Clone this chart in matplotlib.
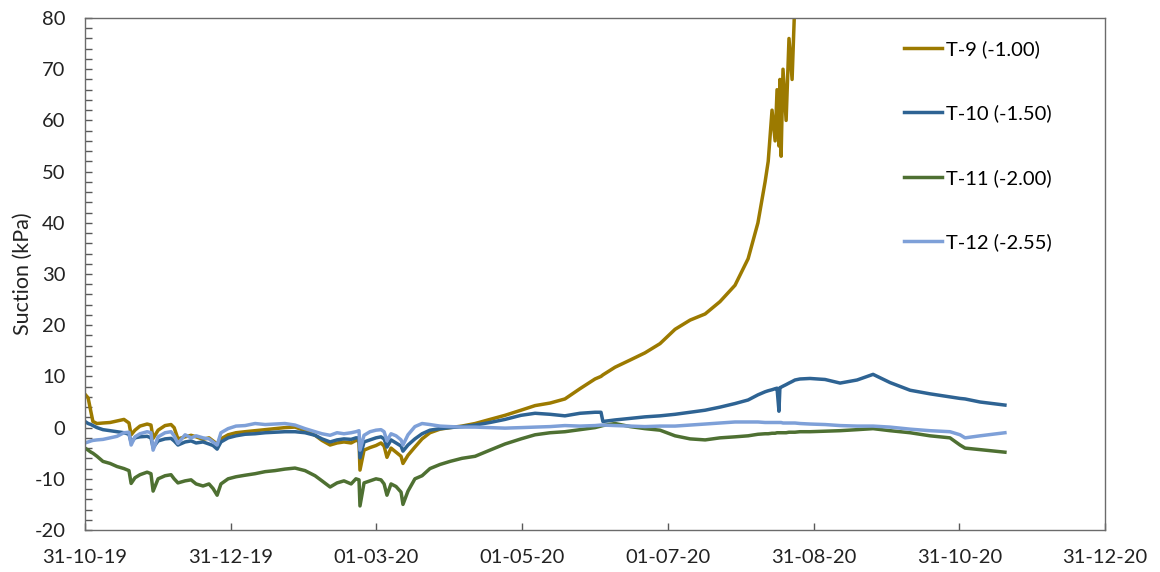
import datetime as dt
import matplotlib
matplotlib.use("Agg")
import matplotlib.pyplot as plt
import matplotlib.dates as mdates
from matplotlib.ticker import MultipleLocator

# days since 31-10-19 (shared by all four sensors)
days = [0, 1.3, 2.5, 3.3, 5.0, 7.5, 10.5, 13.4, 16.3, 18.4,
        19.3, 20.9, 23.0, 26.0, 27.6, 28.5, 30.6, 33.5, 36.0, 37.3,
        38.9, 41.9, 44.4, 46.5, 49.4, 51.9, 53.6, 55.3, 56.9, 59.9,
        63.2, 67.0, 71.2, 75.4, 79.5, 83.7, 87.9, 92.1, 96.3, 99.2,
        102.6, 105.5, 108.4, 111.4, 113.4, 114.7, 115.1, 116.8, 119.3, 121.8,
        123.9, 125.2, 126.4, 128.1, 130.2, 132.3, 133.1, 135.2, 138.1, 141.1,
        144.4, 148.6, 152.8, 157.8, 163.3, 169.5, 175.8, 182.5, 188.4, 194.7,
        200.9, 207.2, 213.5, 216.0, 216.8, 221.9, 228.2, 234.4, 240.7, 247.0,
        253.3, 259.6, 265.8, 272.1, 277.6, 281.7, 284.7, 286.0, 287.6, 288.9,
        289.7, 290.5, 290.9, 291.4, 292.2, 293.5, 294.7, 296.0, 297.2,
        299.3, 303.5, 309.8, 316.1, 323.2, 329.9, 337.0, 345.4, 353.7, 362.1,
        366.3, 368.4, 374.7, 385.1]

# T-9 goes off the top of the chart, so its list stops early
t9 = [6.5, 5.8, 3.0, 1.2, 0.8, 0.9, 1.0, 1.3, 1.6, 0.9,
      -1.4, -0.5, 0.3, 0.7, 0.5, -2.1, -0.5, 0.4, 0.6, 0.0,
      -2.2, -1.8, -1.5, -1.8, -2.3, -2.0, -2.6, -3.2, -2.2, -1.4,
      -1.0, -0.8, -0.6, -0.4, -0.2, 0.0, 0.1, -0.6, -1.5, -2.5,
      -3.4, -3.0, -2.8, -3.0, -2.5, -2.6, -8.3, -4.4, -3.9, -3.5,
      -3.0, -3.6, -5.8, -4.0, -4.8, -5.6, -7.0, -5.4, -3.8, -2.2,
      -1.0, -0.3, 0.0, 0.3, 0.8, 1.6, 2.4, 3.4, 4.3, 4.8,
      5.6, 7.6, 9.5, 10.0, 10.3, 11.8, 13.2, 14.6, 16.4, 19.2,
      21.0, 22.2, 24.6, 27.8, 33.0, 40.0, 48.0, 52.0, 62.0, 56.0,
      66.0, 55.0, 68.0, 53.0, 70.0, 60.0, 76.0, 68.0, 84.0]

t10 = [1.2, 0.8, 0.6, 0.4, 0.0, -0.4, -0.6, -0.8, -1.0, -1.3,
       -2.9, -2.0, -1.8, -1.7, -2.0, -3.9, -2.6, -2.2, -2.1, -2.6,
       -3.4, -2.8, -2.6, -3.0, -2.8, -3.2, -3.5, -4.2, -2.8, -2.0,
       -1.6, -1.3, -1.2, -1.0, -0.9, -0.8, -0.8, -1.0, -1.5, -2.2,
       -2.8, -2.4, -2.2, -2.3, -2.0, -2.0, -5.9, -2.8, -2.4, -2.0,
       -1.8, -2.2, -3.8, -2.4, -3.0, -3.6, -4.6, -3.4, -2.2, -1.2,
       -0.5, -0.2, 0.0, 0.2, 0.5, 1.0, 1.6, 2.4, 2.8, 2.6,
       2.3, 2.8, 3.0, 3.0, 1.2, 1.5, 1.8, 2.1, 2.3, 2.6,
       3.0, 3.4, 4.0, 4.7, 5.4, 6.4, 7.0, 7.2, 7.4, 7.6,
       7.7, 3.2, 7.8, 7.9, 8.1, 8.4, 8.7, 9.0, 9.3,
       9.5, 9.6, 9.4, 8.7, 9.3, 10.4, 8.8, 7.3, 6.6, 6.0,
       5.7, 5.6, 5.0, 4.4]

t11 = [-4.0, -4.4, -4.8, -5.0, -5.6, -6.6, -7.0, -7.6, -8.0, -8.4,
       -10.9, -9.8, -9.2, -8.7, -9.0, -12.4, -10.0, -9.4, -9.2, -10.0,
       -10.8, -10.4, -10.2, -11.0, -11.4, -11.0, -11.9, -13.2, -11.0, -10.0,
       -9.6, -9.3, -9.0, -8.6, -8.4, -8.1, -7.9, -8.4, -9.4, -10.4,
       -11.6, -10.8, -10.4, -11.0, -10.0, -10.2, -15.3, -10.8, -10.4, -10.0,
       -10.2, -11.0, -13.2, -11.0, -11.5, -12.6, -15.0, -12.4, -10.0, -9.4,
       -8.0, -7.2, -6.6, -6.0, -5.6, -4.4, -3.2, -2.2, -1.4, -1.0,
       -0.8, -0.4, 0.0, 0.3, 0.4, 0.8, 0.2, -0.2, -0.5, -1.6,
       -2.2, -2.4, -2.0, -1.8, -1.6, -1.3, -1.2, -1.2, -1.1, -1.1,
       -1.0, -1.0, -1.0, -1.0, -1.0, -1.0, -0.9, -0.9, -0.9,
       -0.8, -0.8, -0.7, -0.6, -0.4, -0.2, -0.6, -1.0, -1.6, -2.0,
       -3.4, -4.0, -4.3, -4.8]

t12 = [-3.0, -2.8, -2.6, -2.5, -2.4, -2.3, -2.0, -1.7, -1.0, -0.9,
       -3.4, -1.8, -1.2, -0.8, -1.0, -4.4, -1.8, -1.0, -0.8, -1.6,
       -3.1, -1.4, -2.0, -1.6, -2.0, -2.2, -2.8, -3.4, -1.0, -0.2,
       0.3, 0.4, 0.8, 0.6, 0.7, 0.8, 0.5, -0.2, -0.8, -1.2,
       -1.5, -1.0, -1.2, -1.0, -0.8, -0.6, -4.4, -1.5, -0.8, -0.5,
       -0.4, -0.8, -2.6, -1.2, -1.6, -2.4, -3.4, -1.4, 0.2, 0.8,
       0.6, 0.3, 0.2, 0.1, 0.1, 0.0, -0.1, 0.0, 0.1, 0.2,
       0.4, 0.3, 0.4, 0.5, 0.5, 0.4, 0.3, 0.2, 0.3, 0.3,
       0.5, 0.7, 0.9, 1.1, 1.1, 1.1, 1.0, 1.0, 1.0, 1.0,
       1.0, 1.0, 1.0, 1.0, 0.9, 0.9, 0.9, 0.9, 0.9,
       0.8, 0.7, 0.6, 0.4, 0.3, 0.3, 0.1, -0.3, -0.6, -0.8,
       -1.4, -2.0, -1.6, -1.0]

labels = ["T-9 (-1.00)", "T-10 (-1.50)", "T-11 (-2.00)", "T-12 (-2.55)"]
colors = ["#9C7A00", "#2E6393", "#4E7032", "#7EA0D8"]

start = dt.datetime(2019, 10, 31)
dates = [start + dt.timedelta(days=d) for d in days]

plt.rcParams['font.family'] = ['Lato', 'DejaVu Sans']
plt.rcParams['axes.unicode_minus'] = False

fig = plt.figure(figsize=(11.6, 5.72), dpi=100)
ax = fig.add_axes([0.0733, 0.0734, 0.8793, 0.8951])

for vals, lab, col in zip([t9, t10, t11, t12], labels, colors):
    ax.plot(dates[:len(vals)], vals, color=col, lw=2.5, label=lab)

ax.set_ylim(-20, 80)
ax.set_xlim(start, start + dt.timedelta(days=427))
ax.yaxis.set_major_locator(MultipleLocator(10))
ax.yaxis.set_minor_locator(MultipleLocator(2))
ax.set_xticks([start + dt.timedelta(days=61 * k) for k in range(8)])
ax.xaxis.set_major_formatter(mdates.DateFormatter('%d-%m-%y'))

ax.tick_params(axis='both', which='both', direction='in', length=5,
               width=1, color='#595959', labelsize=14.5, labelcolor='#222222')
ax.tick_params(axis='x', pad=14)
ax.tick_params(axis='y', pad=14)
for s in ax.spines.values():
    s.set_color('#6b6b6b')
    s.set_linewidth(1)

ax.set_ylabel('Suction (kPa)', fontsize=15.5, color='#222222', labelpad=1)

ax.legend(loc='upper left', bbox_to_anchor=(0.795, 0.972), frameon=False,
          fontsize=14.5, handlelength=1.9, handletextpad=0.2,
          labelspacing=2.3, borderaxespad=0)

fig.savefig('out.png', dpi=100)
